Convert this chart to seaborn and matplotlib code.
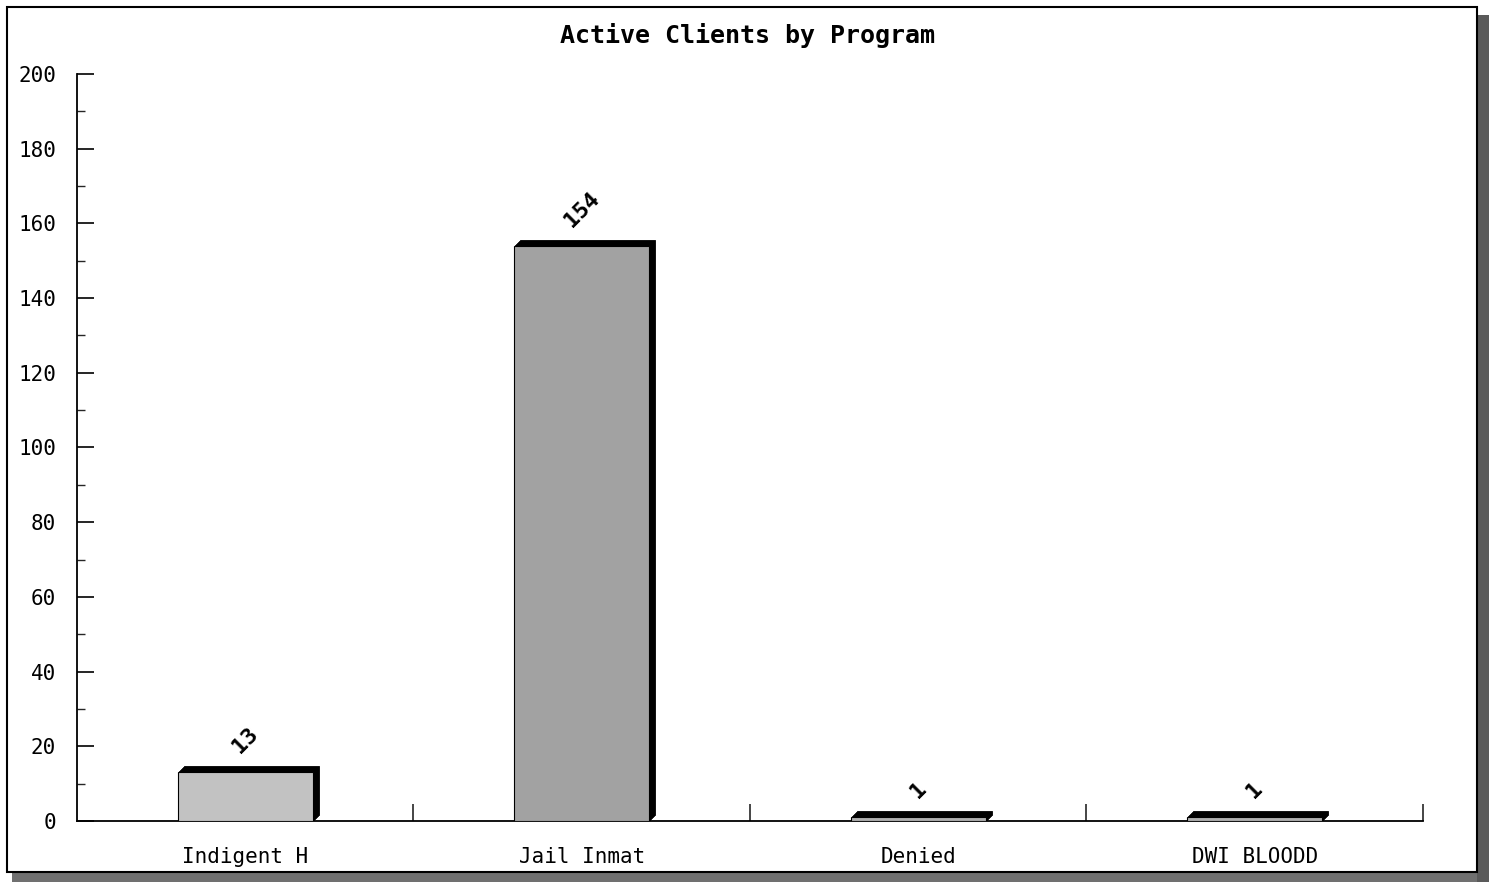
import matplotlib
matplotlib.use("Agg")
import matplotlib.pyplot as plt
import matplotlib.transforms as mtransforms
from matplotlib.patches import Rectangle
import seaborn as sns
import pandas as pd

categories = ["Indigent H", "Jail Inmat", "Denied", "DWI BLOODD"]
clients = [13, 154, 1, 1]
bar_colors = ["#c2c2c2", "#a2a2a2", "#b0b0b0", "#b0b0b0"]
y_ticks = list(range(0, 201, 20))

sns.set_theme(style="white")
plt.rcParams["font.family"] = ["DejaVu Sans Mono", "DejaVu Sans"]
plt.rcParams["text.color"] = "black"

df = pd.DataFrame({"program": categories, "clients": clients})

W, H = 1489, 882
fig = plt.figure(figsize=(W / 100, H / 100), dpi=100)
fig.patch.set_facecolor("white")

# outer frame with drop shadow
fig.patches.append(Rectangle((12 / W, 0), (W - 12) / W, 10 / H, transform=fig.transFigure,
                             facecolor="#707070", edgecolor="none", zorder=0))
fig.patches.append(Rectangle((1477 / W, 0), 12 / W, (H - 15) / H, transform=fig.transFigure,
                             facecolor="#5a5a5a", edgecolor="none", zorder=0))
fig.patches.append(Rectangle((7 / W, 10 / H), (1477 - 7) / W, (872 - 7) / H, transform=fig.transFigure,
                             facecolor="white", edgecolor="black", linewidth=1.5, zorder=1))

ax = fig.add_axes([77 / W, 1 - 821 / H, (1423 - 77) / W, (821 - 74) / H])
ax.set_facecolor("none")
ax.set_zorder(2)

sns.barplot(data=df, x="program", y="clients", hue="program", palette=bar_colors,
            width=0.4, legend=False, ax=ax, edgecolor="black", linewidth=0.8, zorder=3)

# 3D black extrusion (top and right faces) behind each bar
bars = list(ax.patches)
for p in bars:
    for k in range(1, 7):
        off = mtransforms.ScaledTranslation(k / 100, k / 100, fig.dpi_scale_trans)
        ax.add_patch(Rectangle((p.get_x(), p.get_y()), p.get_width(), p.get_height(),
                               transform=ax.transData + off, facecolor="black",
                               edgecolor="black", linewidth=0.6, zorder=2))

for i, v in enumerate(clients):
    ax.annotate(str(v), xy=(i, v), xytext=(0, 11), textcoords="offset points",
                ha="center", va="bottom", rotation=45, fontsize=16, fontweight="bold",
                color="black")

ax.set_xlim(-0.5, 3.5)
ax.set_ylim(0, 200)
ax.set_yticks(y_ticks)
ax.set_yticks(range(0, 201, 10), minor=True)
ax.set_xticks(range(len(categories)))
ax.set_xticklabels(categories)
ax.set_xticks([0.5, 1.5, 2.5, 3.5], minor=True)
ax.tick_params(axis="y", which="major", direction="in", length=12, width=1.2, labelsize=15,
               pad=15, colors="black", left=True)
ax.tick_params(axis="y", which="minor", direction="in", length=6, width=1.0, left=True)
ax.tick_params(axis="x", which="major", length=0, labelsize=15, pad=19, colors="black")
ax.tick_params(axis="x", which="minor", direction="in", length=12, width=1.2, bottom=True)
for s in ["top", "right"]:
    ax.spines[s].set_visible(False)
for s in ["left", "bottom"]:
    ax.spines[s].set_color("black")
    ax.spines[s].set_linewidth(1.3)
ax.set_xlabel("")
ax.set_ylabel("")

fig.text(747 / W, 1 - 35 / H, "Active Clients by Program", ha="center", va="center",
         fontsize=18, fontweight="bold", color="black")

fig.savefig("out.png", dpi=100)
